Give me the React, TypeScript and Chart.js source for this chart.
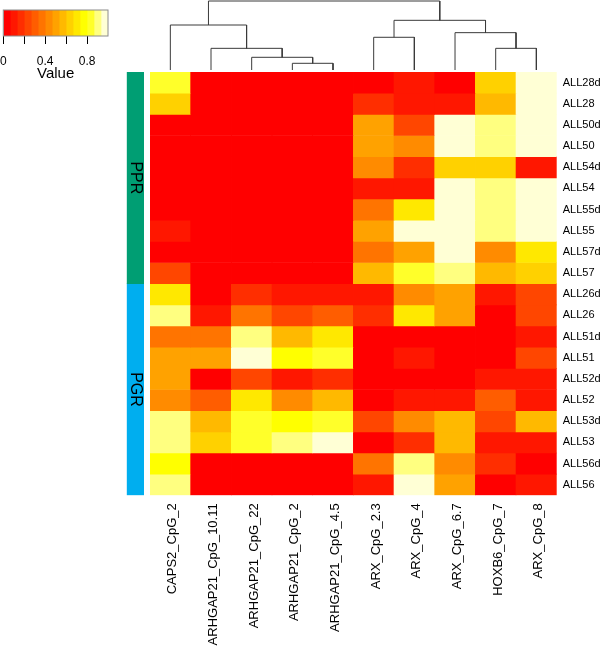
import React, { useEffect, useRef } from 'react';
import { Chart, registerables } from 'chart.js';

Chart.register(...registerables);
Chart.defaults.font.family = "'Liberation Sans', Arial, Helvetica, sans-serif";

const W = 600;
const H = 648;

// ---------- data ----------
const columnLabels = [
  'CAPS2_CpG_2',
  'ARHGAP21_CpG_10.11',
  'ARHGAP21_CpG_22',
  'ARHGAP21_CpG_2',
  'ARHGAP21_CpG_4.5',
  'ARX_CpG_2.3',
  'ARX_CpG_4',
  'ARX_CpG_6.7',
  'HOXB6_CpG_7',
  'ARX_CpG_8',
];

const rowLabels = [
  'ALL28d', 'ALL28', 'ALL50d', 'ALL50', 'ALL54d', 'ALL54', 'ALL55d', 'ALL55', 'ALL57d', 'ALL57',
  'ALL26d', 'ALL26', 'ALL51d', 'ALL51', 'ALL52d', 'ALL52', 'ALL53d', 'ALL53', 'ALL56d', 'ALL56',
];

// one row per sample, columns in the order of columnLabels
const heatValues: number[][] = [
  [0.83, 0.03, 0.03, 0.03, 0.03, 0.03, 0.10, 0.03, 0.63, 0.97],
  [0.63, 0.03, 0.03, 0.03, 0.03, 0.17, 0.10, 0.10, 0.57, 0.97],
  [0.03, 0.03, 0.03, 0.03, 0.03, 0.50, 0.23, 0.97, 0.90, 0.97],
  [0.03, 0.03, 0.03, 0.03, 0.03, 0.50, 0.43, 0.97, 0.90, 0.97],
  [0.03, 0.03, 0.03, 0.03, 0.03, 0.43, 0.17, 0.63, 0.63, 0.10],
  [0.03, 0.03, 0.03, 0.03, 0.03, 0.10, 0.10, 0.97, 0.90, 0.97],
  [0.03, 0.03, 0.03, 0.03, 0.03, 0.37, 0.70, 0.97, 0.90, 0.97],
  [0.10, 0.03, 0.03, 0.03, 0.03, 0.50, 0.97, 0.97, 0.90, 0.97],
  [0.03, 0.03, 0.03, 0.03, 0.03, 0.37, 0.50, 0.97, 0.43, 0.70],
  [0.23, 0.03, 0.03, 0.03, 0.03, 0.57, 0.83, 0.90, 0.57, 0.63],
  [0.70, 0.03, 0.17, 0.10, 0.10, 0.10, 0.43, 0.50, 0.10, 0.23],
  [0.90, 0.10, 0.37, 0.23, 0.30, 0.17, 0.70, 0.50, 0.03, 0.23],
  [0.37, 0.37, 0.90, 0.57, 0.70, 0.03, 0.03, 0.03, 0.03, 0.10],
  [0.50, 0.50, 0.97, 0.77, 0.83, 0.03, 0.10, 0.03, 0.03, 0.23],
  [0.50, 0.03, 0.23, 0.10, 0.17, 0.03, 0.03, 0.03, 0.10, 0.10],
  [0.43, 0.30, 0.70, 0.43, 0.57, 0.03, 0.10, 0.10, 0.30, 0.10],
  [0.90, 0.57, 0.83, 0.77, 0.83, 0.23, 0.43, 0.57, 0.23, 0.57],
  [0.90, 0.63, 0.83, 0.90, 0.97, 0.03, 0.17, 0.57, 0.10, 0.10],
  [0.77, 0.03, 0.03, 0.03, 0.03, 0.37, 0.90, 0.43, 0.17, 0.03],
  [0.90, 0.03, 0.03, 0.03, 0.03, 0.10, 0.97, 0.50, 0.03, 0.10],
];

// row side colour groups
const groupNames = ['PPR', 'PGR'];
const groupSizes = [10, 10];
const groupColors = ['#009E73', '#00AEEF'];

// column dendrogram, hclust style (negative = leaf index, positive = earlier merge)
const mergeLeft = [-4, -3, -2, -1, -9, -8, -6, 7, 4];
const mergeRight = [-5, 1, 2, 3, -10, 5, -7, 6, 8];
const mergeHeight = [0.097, 0.184, 0.314, 0.652, 0.314, 0.541, 0.474, 0.72, 1.0];

// colour key
const keyTicks = [0, 0.2, 0.4, 0.6, 0.8];
const keyTickLabels = ['0', '', '0.4', '', '0.8'];
const nColors = 15;

// ---------- helpers ----------
function heatPalette(n: number): string[] {
  const j = Math.floor(n / 4);
  const i = n - j;
  const out: string[] = [];
  for (let k = 0; k < i; k++) {
    const g = Math.round((255 * k) / (i - 1));
    out.push(`rgb(255,${g},0)`);
  }
  for (let m = 0; m < j; m++) {
    const s0 = 1 - 1 / (2 * j);
    const s1 = 1 / (2 * j);
    const s = j > 1 ? s0 - (m * (s0 - s1)) / (j - 1) : s0;
    const b = Math.round(255 * (1 - s));
    out.push(`rgb(255,255,${b})`);
  }
  return out;
}
const palette = heatPalette(nColors);
const heatColor = (v: number) => palette[Math.min(nColors - 1, Math.max(0, Math.floor(v * nColors)))];

function dendroSegments() {
  const pos: number[] = [];
  const segs: { x: number; y: number }[][] = [];
  const px = (id: number) => (id < 0 ? -id - 0.5 : pos[id - 1]);
  const ht = (id: number) => (id < 0 ? 0 : mergeHeight[id - 1]);
  mergeLeft.forEach((l, k) => {
    const r = mergeRight[k];
    const h = mergeHeight[k];
    const xl = px(l);
    const xr = px(r);
    pos.push((xl + xr) / 2);
    segs.push([
      { x: xl, y: ht(l) },
      { x: xl, y: h },
      { x: xr, y: h },
      { x: xr, y: ht(r) },
    ]);
  });
  return segs;
}

// layout (pixels)
const HM_LEFT = 150;
const HM_RIGHT = 556.7;
const HM_TOP = 72;
const HM_BOTTOM = 495.3;
const KEY_AXIS_H = 47;

const noPlugins = { legend: { display: false }, tooltip: { enabled: false } };

export default function App() {
  const keyRef = useRef<HTMLCanvasElement>(null);
  const dendRef = useRef<HTMLCanvasElement>(null);
  const sideRef = useRef<HTMLCanvasElement>(null);
  const heatRef = useRef<HTMLCanvasElement>(null);

  useEffect(() => {
    const charts: Chart[] = [];

    // colour key
    const keyFrame = {
      id: 'keyFrame',
      afterDatasetsDraw(chart: any) {
        const { ctx, chartArea: a } = chart;
        ctx.save();
        ctx.strokeStyle = '#8c8c8c';
        ctx.lineWidth = 1;
        ctx.strokeRect(a.left, a.top, a.right - a.left, a.bottom - a.top);
        ctx.restore();
      },
    };
    charts.push(
      new Chart(keyRef.current!, {
        type: 'bar',
        data: {
          labels: ['key'],
          datasets: palette.map((c, k) => ({
            data: [[k / nColors, (k + 1) / nColors]],
            backgroundColor: c,
            borderWidth: 0,
            barPercentage: 1,
            categoryPercentage: 1,
          })),
        } as any,
        options: {
          indexAxis: 'y',
          animation: false,
          responsive: false,
          events: [],
          layout: { padding: { left: 3.3, right: W - 108, top: 10, bottom: H - 36 - KEY_AXIS_H } },
          plugins: noPlugins as any,
          scales: {
            y: { display: false, stacked: true },
            x: {
              type: 'linear',
              min: 0,
              max: 1,
              position: 'bottom',
              afterBuildTicks: (s: any) => {
                s.ticks = keyTicks.map((v) => ({ value: v }));
              },
              afterFit: (s: any) => {
                s.height = KEY_AXIS_H;
                s.paddingLeft = 0;
                s.paddingRight = 0;
              },
              ticks: {
                callback: (_v: any, i: number) => keyTickLabels[i],
                color: '#000',
                font: { size: 12 },
                padding: 10,
                autoSkip: false,
                maxRotation: 0,
              },
              grid: { drawOnChartArea: false, drawTicks: true, tickLength: 8, color: '#000', tickColor: '#000' },
              border: { display: false },
              title: { display: true, text: 'Value', color: '#000', font: { size: 15 }, padding: 0 },
            },
          } as any,
        },
        plugins: [keyFrame],
      })
    );

    // dendrogram
    const segs = dendroSegments();
    charts.push(
      new Chart(dendRef.current!, {
        type: 'line',
        data: {
          datasets: segs.map((s) => ({
            data: s,
            borderColor: '#3a3a3a',
            borderWidth: 1,
            pointRadius: 0,
            tension: 0,
            clip: false,
            fill: false,
          })),
        } as any,
        options: {
          animation: false,
          responsive: false,
          events: [],
          layout: { padding: { left: HM_LEFT, right: W - HM_RIGHT, top: 1, bottom: H - 70 } },
          plugins: noPlugins as any,
          scales: {
            x: { type: 'linear', min: 0, max: 10, display: false },
            y: { type: 'linear', min: 0, max: 1, display: false },
          },
        },
      })
    );

    // row side colours
    const sideText = {
      id: 'sideText',
      afterDatasetsDraw(chart: any) {
        const { ctx } = chart;
        chart.data.datasets.forEach((ds: any, di: number) => {
          const el = chart.getDatasetMeta(di).data[0] as any;
          if (!el) return;
          const cy = (el.y + el.base) / 2;
          ctx.save();
          ctx.translate(el.x, cy);
          ctx.rotate(Math.PI / 2);
          ctx.fillStyle = '#000';
          ctx.font = "16px 'Liberation Sans', Arial, sans-serif";
          ctx.textAlign = 'center';
          ctx.textBaseline = 'middle';
          ctx.fillText(ds.label, 0, 0);
          ctx.restore();
        });
      },
    };
    let start = 0;
    const sideSets = groupNames.map((g, gi) => {
      const d = { label: g, data: [[start, start + groupSizes[gi]]], backgroundColor: groupColors[gi], borderWidth: 0, barPercentage: 1, categoryPercentage: 1 };
      start += groupSizes[gi];
      return d;
    });
    charts.push(
      new Chart(sideRef.current!, {
        type: 'bar',
        data: { labels: ['side'], datasets: sideSets } as any,
        options: {
          animation: false,
          responsive: false,
          events: [],
          layout: { padding: { left: 126.7, right: W - 144, top: HM_TOP, bottom: H - HM_BOTTOM } },
          plugins: noPlugins as any,
          scales: {
            x: { display: false, stacked: true },
            y: { type: 'linear', min: 0, max: rowLabels.length, reverse: true, display: false },
          },
        },
        plugins: [sideText],
      })
    );

    // heatmap
    charts.push(
      new Chart(heatRef.current!, {
        type: 'bar',
        data: {
          labels: columnLabels,
          datasets: rowLabels.map((r, ri) => ({
            label: r,
            data: heatValues[ri].map(() => [ri, ri + 1]),
            backgroundColor: heatValues[ri].map(heatColor),
            borderWidth: 0,
            barPercentage: 1,
            categoryPercentage: 1,
            xAxisID: 'x',
            yAxisID: 'y',
          })),
        } as any,
        options: {
          animation: false,
          responsive: false,
          events: [],
          layout: { padding: { left: HM_LEFT, right: 0, top: HM_TOP, bottom: 0 } },
          plugins: noPlugins as any,
          scales: {
            x: {
              type: 'category',
              stacked: true,
              position: 'bottom',
              grid: { display: false, drawTicks: false },
              border: { display: false },
              ticks: { autoSkip: false, minRotation: 90, maxRotation: 90, padding: 8, labelOffset: 2.5, color: '#000', font: { size: 13 } },
              afterFit: (s: any) => {
                s.height = H - HM_BOTTOM;
                s.paddingLeft = 0;
                s.paddingRight = 0;
              },
            },
            y: { type: 'linear', min: 0, max: rowLabels.length, reverse: true, display: false, stacked: false },
            yRow: {
              type: 'category',
              labels: rowLabels,
              position: 'right',
              offset: true,
              grid: { display: false, drawTicks: false },
              border: { display: false },
              ticks: { autoSkip: false, padding: 6, color: '#000', font: { size: 11 } },
              afterFit: (s: any) => {
                s.width = W - HM_RIGHT;
              },
            },
          } as any,
        },
      })
    );

    return () => charts.forEach((c) => c.destroy());
  }, []);

  const cs: React.CSSProperties = { position: 'absolute', left: 0, top: 0 };
  return (
    <div style={{ position: 'absolute', left: 0, top: 0, width: W, height: H, background: '#fff' }}>
      <canvas ref={keyRef} width={W} height={H} style={cs} />
      <canvas ref={dendRef} width={W} height={H} style={cs} />
      <canvas ref={sideRef} width={W} height={H} style={cs} />
      <canvas ref={heatRef} width={W} height={H} style={cs} />
    </div>
  );
}
